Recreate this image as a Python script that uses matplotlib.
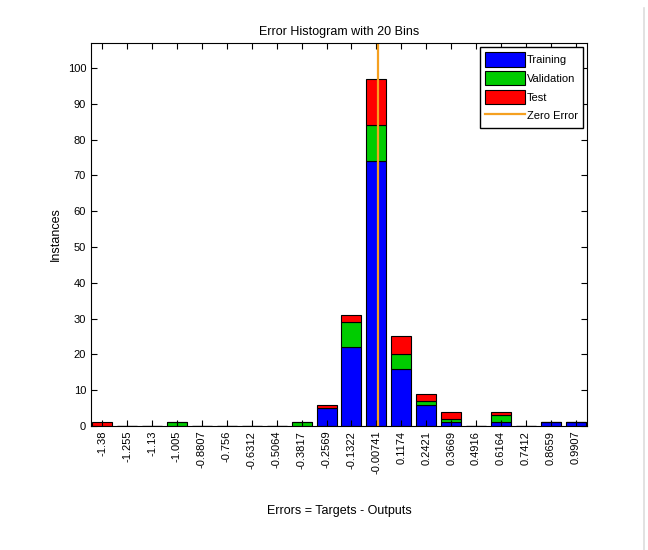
import numpy as np
import matplotlib.pyplot as plt
from matplotlib.lines import Line2D

bin_labels = ['-1.38', '-1.255', '-1.13', '-1.005', '-0.8807', '-0.756', '-0.6312',
              '-0.5064', '-0.3817', '-0.2569', '-0.1322', '-0.00741', '0.1174',
              '0.2421', '0.3669', '0.4916', '0.6164', '0.7412', '0.8659', '0.9907']
bin_centers = [-1.38, -1.255, -1.13, -1.005, -0.8807, -0.756, -0.6312, -0.5064,
               -0.3817, -0.2569, -0.1322, -0.00741, 0.1174, 0.2421, 0.3669,
               0.4916, 0.6164, 0.7412, 0.8659, 0.9907]
training = [0, 0, 0, 0, 0, 0, 0, 0, 0, 5, 22, 74, 16, 6, 1, 0, 1, 0, 1, 1]
validation = [0, 0, 0, 1, 0, 0, 0, 0, 1, 0, 7, 10, 4, 1, 1, 0, 2, 0, 0, 0]
test = [1, 0, 0, 0, 0, 0, 0, 0, 0, 1, 2, 13, 5, 2, 2, 0, 1, 0, 0, 0]

plt.rcParams['font.family'] = ['Liberation Sans', 'DejaVu Sans']

fig = plt.figure(figsize=(6.48, 5.5), dpi=100)
ax = fig.add_axes([0.1404, 0.2255, 0.7655, 0.6963])

x = np.arange(len(bin_labels))
training = np.array(training)
validation = np.array(validation)
test = np.array(test)

b1 = ax.bar(x, training, width=0.8, color='#0000ff', edgecolor='black', linewidth=0.8, label='Training')
b2 = ax.bar(x, validation, width=0.8, bottom=training, color='#00cc00', edgecolor='black',
            linewidth=0.8, label='Validation')
b3 = ax.bar(x, test, width=0.8, bottom=training + validation, color='#ff0000', edgecolor='black',
            linewidth=0.8, label='Test')

# zero error line, placed on the bin index scale
zero_pos = np.interp(0.0, bin_centers, x)
zl = ax.axvline(zero_pos, color='#f5a020', linewidth=1.6, label='Zero Error')

ax.set_xlim(-0.45, 19.45)
ax.set_ylim(0, 107)
ax.set_xticks(x)
ax.set_xticklabels(bin_labels, rotation=90, fontsize=8)
ax.set_yticks(np.arange(0, 101, 10))
ax.tick_params(axis='y', labelsize=8)
ax.tick_params(direction='in', top=True, right=True, length=4)

ax.set_title('Error Histogram with 20 Bins', fontsize=9)
ax.set_ylabel('Instances', fontsize=9)
ax.set_xlabel('Errors = Targets - Outputs', fontsize=9, labelpad=22)

ax.legend(handles=[b1, b2, b3, zl], loc='upper right', fontsize=8, fancybox=False,
          framealpha=1, edgecolor='black', handlelength=3.6, handleheight=1.6,
          borderaxespad=0.4, labelspacing=0.4, handletextpad=0.15, borderpad=0.45)

fig.add_artist(Line2D([0.994, 0.994], [0.0, 0.985], color='#dddddd', linewidth=1.2))

plt.savefig('out.png')
plt.close()
